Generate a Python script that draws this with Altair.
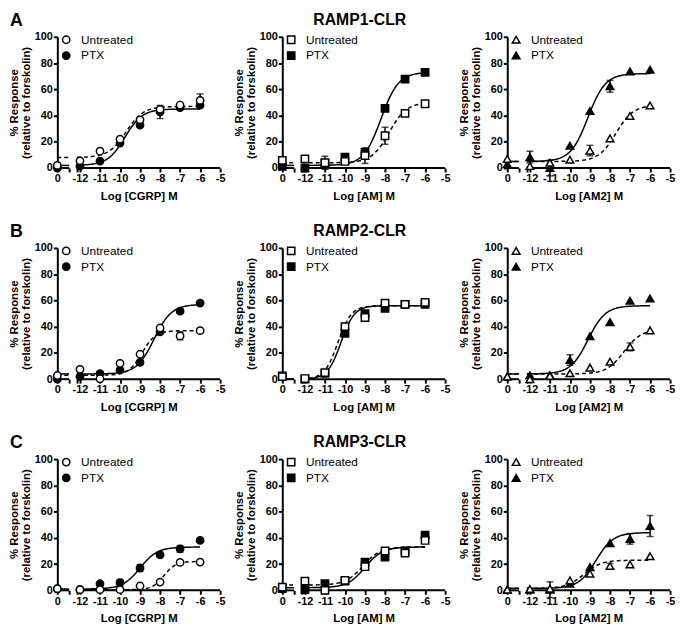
import altair as alt
import numpy as np
import pandas as pd

FONT = "Liberation Sans"

# ---------------------------------------------------------------- data
DOSES = [-12, -11, -10, -9, -8, -7, -6]          # log [agonist] M
AXIS_TICKS = [-12, -11, -10, -9, -8, -7, -6, -5]
SERIES = ["Untreated", "PTX"]
RECEPTORS = ["RAMP1-CLR", "RAMP2-CLR", "RAMP3-CLR"]
LETTERS = ["A", "B", "C"]
LIGANDS = ["CGRP", "AM", "AM2"]
SHAPES = ["circle", "square", "triangle-up"]

# % response (relative to forskolin); first value = vehicle ("0"), then -12 ... -6
RAMP1_CGRP_UNT = [2, 5.5, 12.8, 22, 36.7, 44.7, 48, 51.5]
RAMP1_CGRP_UNT_ERR = [0, 0, 0, 0, 0, 0, 0, 5]
RAMP1_CGRP_PTX = [0, 1.5, 5.3, 19, 32.7, 42.7, 46, 48]
RAMP1_CGRP_PTX_ERR = [0, 0, 0, 0, 0, 5, 0, 0]

RAMP1_AM_UNT = [5.8, 7, 4, 5, 9.5, 24.6, 41.7, 49]
RAMP1_AM_UNT_ERR = [0, 0, 0, 0, 6, 6.5, 0, 0]
RAMP1_AM_PTX = [1.3, 0, 4, 8.3, 12, 45.5, 67.8, 72.9]
RAMP1_AM_PTX_ERR = [0, 0, 5, 0, 0, 0, 0, 0]

RAMP1_AM2_UNT = [7, 1.5, 4, 6.3, 13.3, 22.6, 39.7, 47.7]
RAMP1_AM2_UNT_ERR = [0, 0, 0, 0, 4, 0, 0, 0]
RAMP1_AM2_PTX = [3, 8.3, 0, 17, 43.5, 62.3, 73.6, 74.9]
RAMP1_AM2_PTX_ERR = [0, 4.5, 6, 0, 0, 4.5, 0, 0]

RAMP2_CGRP_UNT = [2.8, 7.5, 0.3, 12, 19, 39, 33, 37]
RAMP2_CGRP_UNT_ERR = [0, 0, 0, 0, 0, 0, 3, 0]
RAMP2_CGRP_PTX = [0, 2, 4.3, 7, 12.8, 36, 51.8, 58]
RAMP2_CGRP_PTX_ERR = [0, 0, 0, 0, 0, 0, 0, 0]

RAMP2_AM_UNT = [2, 0.5, 5, 40, 47, 58, 57, 58.5]
RAMP2_AM_UNT_ERR = [0, 0, 0, 0, 0, 0, 0, 0]
RAMP2_AM_PTX = [2.5, 0, 4.5, 35, 50, 54, 57, 57]
RAMP2_AM_PTX_ERR = [0, 0, 0, 0, 0, 0, 0, 0]

RAMP2_AM2_UNT = [2, 0, 2.5, 4.5, 8.8, 13.3, 24.6, 37.2]
RAMP2_AM2_UNT_ERR = [0, 0, 0, 0, 0, 0, 3, 0]
RAMP2_AM2_PTX = [2, 3, 3, 14.6, 32.7, 43.5, 59.8, 61.5]
RAMP2_AM2_PTX_ERR = [0, 0, 0, 4, 0, 0, 0, 0]

RAMP3_CGRP_UNT = [1.3, 0.5, 0.5, 0.5, 3.3, 6.3, 21.3, 21.5]
RAMP3_CGRP_UNT_ERR = [0, 0, 0, 0, 0, 0, 0, 0]
RAMP3_CGRP_PTX = [1, 0.5, 5, 5.8, 17, 27, 31.6, 38]
RAMP3_CGRP_PTX_ERR = [0, 0, 0, 2.5, 2.5, 0, 2.5, 0]

RAMP3_AM_UNT = [2.5, 7, 0, 7.6, 18, 30, 28.4, 38]
RAMP3_AM_UNT_ERR = [0, 0, 0, 0, 0, 0, 0, 0]
RAMP3_AM_PTX = [1.3, 0.5, 5, 7, 21.5, 25.3, 30, 42]
RAMP3_AM_PTX_ERR = [0, 0, 0, 0, 0, 0, 0, 0]

RAMP3_AM2_UNT = [0.5, 1, 1.3, 7.6, 12.7, 18.5, 19.7, 26]
RAMP3_AM2_UNT_ERR = [0, 0, 0, 0, 0, 2, 0, 0]
RAMP3_AM2_PTX = [0.5, 0.5, 0.5, 5, 17.7, 36, 39.2, 49]
RAMP3_AM2_PTX_ERR = [0, 0, 6, 0, 0, 0, 4, 8]

# sigmoidal fits: bottom, top, logEC50, Hill slope
FIT_RAMP1_CGRP_UNT = [8, 47, -9.7, 1]
FIT_RAMP1_CGRP_PTX = [2, 45, -9.75, 1]
FIT_RAMP1_AM_UNT = [4, 50, -7.8, 1]
FIT_RAMP1_AM_PTX = [2, 73, -8.2, 1]
FIT_RAMP1_AM2_UNT = [5, 48, -7.7, 1]
FIT_RAMP1_AM2_PTX = [5, 72, -9.1, 1]
FIT_RAMP2_CGRP_UNT = [3, 37, -8.9, 1.3]
FIT_RAMP2_CGRP_PTX = [4, 57, -8.3, 1]
FIT_RAMP2_AM_UNT = [0, 56, -10.35, 1.3]
FIT_RAMP2_AM_PTX = [0, 56, -10.2, 1.3]
FIT_RAMP2_AM2_UNT = [4, 38, -7.3, 1]
FIT_RAMP2_AM2_PTX = [4, 56, -9.1, 1]
FIT_RAMP3_CGRP_UNT = [0.5, 22, -7.8, 1.5]
FIT_RAMP3_CGRP_PTX = [1, 33, -9.0, 1]
FIT_RAMP3_AM_UNT = [4, 33, -9.1, 1]
FIT_RAMP3_AM_PTX = [2, 33, -9.0, 1]
FIT_RAMP3_AM2_UNT = [1.5, 23, -9.3, 1]
FIT_RAMP3_AM2_PTX = [1.5, 44, -8.7, 1]

PANELS = [
    [
        (RAMP1_CGRP_UNT, RAMP1_CGRP_UNT_ERR, RAMP1_CGRP_PTX, RAMP1_CGRP_PTX_ERR, FIT_RAMP1_CGRP_UNT, FIT_RAMP1_CGRP_PTX),
        (RAMP1_AM_UNT, RAMP1_AM_UNT_ERR, RAMP1_AM_PTX, RAMP1_AM_PTX_ERR, FIT_RAMP1_AM_UNT, FIT_RAMP1_AM_PTX),
        (RAMP1_AM2_UNT, RAMP1_AM2_UNT_ERR, RAMP1_AM2_PTX, RAMP1_AM2_PTX_ERR, FIT_RAMP1_AM2_UNT, FIT_RAMP1_AM2_PTX),
    ],
    [
        (RAMP2_CGRP_UNT, RAMP2_CGRP_UNT_ERR, RAMP2_CGRP_PTX, RAMP2_CGRP_PTX_ERR, FIT_RAMP2_CGRP_UNT, FIT_RAMP2_CGRP_PTX),
        (RAMP2_AM_UNT, RAMP2_AM_UNT_ERR, RAMP2_AM_PTX, RAMP2_AM_PTX_ERR, FIT_RAMP2_AM_UNT, FIT_RAMP2_AM_PTX),
        (RAMP2_AM2_UNT, RAMP2_AM2_UNT_ERR, RAMP2_AM2_PTX, RAMP2_AM2_PTX_ERR, FIT_RAMP2_AM2_UNT, FIT_RAMP2_AM2_PTX),
    ],
    [
        (RAMP3_CGRP_UNT, RAMP3_CGRP_UNT_ERR, RAMP3_CGRP_PTX, RAMP3_CGRP_PTX_ERR, FIT_RAMP3_CGRP_UNT, FIT_RAMP3_CGRP_PTX),
        (RAMP3_AM_UNT, RAMP3_AM_UNT_ERR, RAMP3_AM_PTX, RAMP3_AM_PTX_ERR, FIT_RAMP3_AM_UNT, FIT_RAMP3_AM_PTX),
        (RAMP3_AM2_UNT, RAMP3_AM2_UNT_ERR, RAMP3_AM2_PTX, RAMP3_AM2_PTX_ERR, FIT_RAMP3_AM2_UNT, FIT_RAMP3_AM2_PTX),
    ],
]

# ---------------------------------------------------------------- layout
W, H = 165, 133
X_LEFT = -13.13          # where the vehicle ("0") point sits on the broken axis
BREAK_A, BREAK_B = -12.54, -12.15
CURVE_END = -6

xscale = alt.Scale(domain=[X_LEFT, -5], nice=False, zero=False)
yscale = alt.Scale(domain=[0, 100], nice=False, zero=False)


def x_axis(lig):
    return alt.Axis(
        values=[X_LEFT, BREAK_A, BREAK_B] + AXIS_TICKS,
        labelExpr=("datum.value < -12.9 ? '0' : (datum.value < -12.05 ? '' : "
                   "'-' + format(abs(datum.value), 'd'))"),
        domain=False, grid=False, ticks=True, tickSize=4, tickWidth=2,
        tickColor="black", labelFont=FONT, labelFontSize=11, labelFontWeight="bold",
        labelColor="black", labelPadding=1, labelOverlap=False, labelFlush=False,
        title=f"Log [{lig}] M", titleFont=FONT, titleFontSize=11.5,
        titleFontWeight="bold", titleColor="black", titlePadding=7,
    )


y_axis = alt.Axis(
    values=[0, 20, 40, 60, 80, 100], domain=True, domainWidth=2, domainColor="black",
    grid=False, ticks=True, tickSize=4, tickWidth=2, tickColor="black",
    labelFont=FONT, labelFontSize=11, labelFontWeight="bold", labelColor="black",
    labelPadding=1, labelFlush=False, labelOverlap=False,
    title=["% Response", "(relative to forskolin)"], titleFont=FONT, titleFontSize=11.5,
    titleFontWeight="bold", titleColor="black", titlePadding=3, titleLineHeight=12,
)


def hill(p, xs):
    b, t, ec, h = p
    return b + (t - b) / (1 + 10 ** (h * (ec - xs)))


def panel(r, c):
    unt, unt_e, ptx, ptx_e, fit_u, fit_p = PANELS[r][c]
    lig, shape = LIGANDS[c], SHAPES[c]
    xpos = [X_LEFT] + DOSES
    pts = pd.DataFrame({
        "x": xpos * 2,
        "y": unt + ptx,
        "err": unt_e + ptx_e,
        "series": ["Untreated"] * 8 + ["PTX"] * 8,
    })
    pts["lo"] = pts["y"] - pts["err"]
    pts["hi"] = pts["y"] + pts["err"]
    bars = pts[pts["err"] > 0]

    grid = np.linspace(BREAK_B, CURVE_END, 120)
    curves = []
    for name, p in (("Untreated", fit_u), ("PTX", fit_p)):
        curves.append(pd.DataFrame({"x": [X_LEFT, BREAK_A], "y": [p[0], p[0]],
                                    "seg": "a", "series": name}))
        curves.append(pd.DataFrame({"x": grid, "y": hill(p, grid),
                                    "seg": "b", "series": name}))
    curves = pd.concat(curves, ignore_index=True)

    X = alt.X("x:Q", scale=xscale, axis=x_axis(lig))
    Y = alt.Y("y:Q", scale=yscale, axis=y_axis)

    segs = pd.DataFrame({"x": [X_LEFT, BREAK_B], "x2": [BREAK_A, -5], "y": [0, 0]})
    axis_line = alt.Chart(segs).mark_rule(color="black", strokeWidth=2).encode(
        x=X, x2="x2:Q", y=Y)

    line_u = alt.Chart(curves[curves.series == "Untreated"]).mark_line(
        color="black", strokeWidth=1.5, strokeDash=[4, 3]).encode(x=X, y=Y, detail="seg:N")
    line_p = alt.Chart(curves[curves.series == "PTX"]).mark_line(
        color="black", strokeWidth=1.5).encode(x=X, y=Y, detail="seg:N")

    layers = [axis_line, line_u, line_p]
    if len(bars):
        layers.append(alt.Chart(bars).mark_rule(color="black", strokeWidth=1.5).encode(
            x=X, y=alt.Y("lo:Q", scale=yscale, axis=y_axis), y2="hi:Q"))
        for f in ("lo", "hi"):
            layers.append(alt.Chart(bars).mark_tick(
                orient="horizontal", size=7, thickness=1.5, color="black").encode(
                x=X, y=alt.Y(f"{f}:Q", scale=yscale, axis=y_axis)))

    size = {"circle": 55, "square": 55, "triangle-up": 60}[shape]
    layers.append(alt.Chart(pts[pts.series == "PTX"]).mark_point(
        shape=shape, size=size, filled=True, fill="black", stroke="black",
        strokeWidth=1.5, opacity=1).encode(x=X, y=Y))
    layers.append(alt.Chart(pts[pts.series == "Untreated"]).mark_point(
        shape=shape, size=size, filled=True, fill="white", stroke="black",
        strokeWidth=1.5, opacity=1).encode(x=X, y=Y))

    # in-plot legend
    for i, (name, fill) in enumerate(zip(SERIES, ["white", "black"])):
        ly = 3 + 16 * i
        layers.append(alt.Chart(pd.DataFrame({"label": [name]})).mark_point(
            shape=shape, size=size, filled=True, fill=fill, stroke="black",
            strokeWidth=1.5, opacity=1).encode(x=alt.value(9), y=alt.value(ly)))
        layers.append(alt.Chart(pd.DataFrame({"label": [name]})).mark_text(
            align="left", baseline="middle", font=FONT, fontSize=12,
            color="black").encode(x=alt.value(24), y=alt.value(ly), text="label:N"))

    if c == 0:
        layers.append(alt.Chart(pd.DataFrame({"t": [LETTERS[r]]})).mark_text(
            align="left", baseline="top", font=FONT, fontSize=18, fontWeight="bold",
            color="black").encode(x=alt.value(-48), y=alt.value(-25), text="t:N"))
    if c == 1:
        layers.append(alt.Chart(pd.DataFrame({"t": [RECEPTORS[r]]})).mark_text(
            align="center", baseline="alphabetic", font=FONT, fontSize=16,
            fontWeight="bold", color="black").encode(
            x=alt.value(W / 2 - 4), y=alt.value(-12), text="t:N"))

    return alt.layer(*layers).properties(width=W, height=H)


panels = [panel(r, c) for r in range(3) for c in range(3)]
chart = alt.concat(*panels, columns=3, spacing={"row": 81, "column": 63},
                   bounds="flush")
chart = chart.properties(padding=0, background="white").configure_view(stroke=None)

chart.save("out.html", embed_options={"renderer": "svg", "actions": False})
